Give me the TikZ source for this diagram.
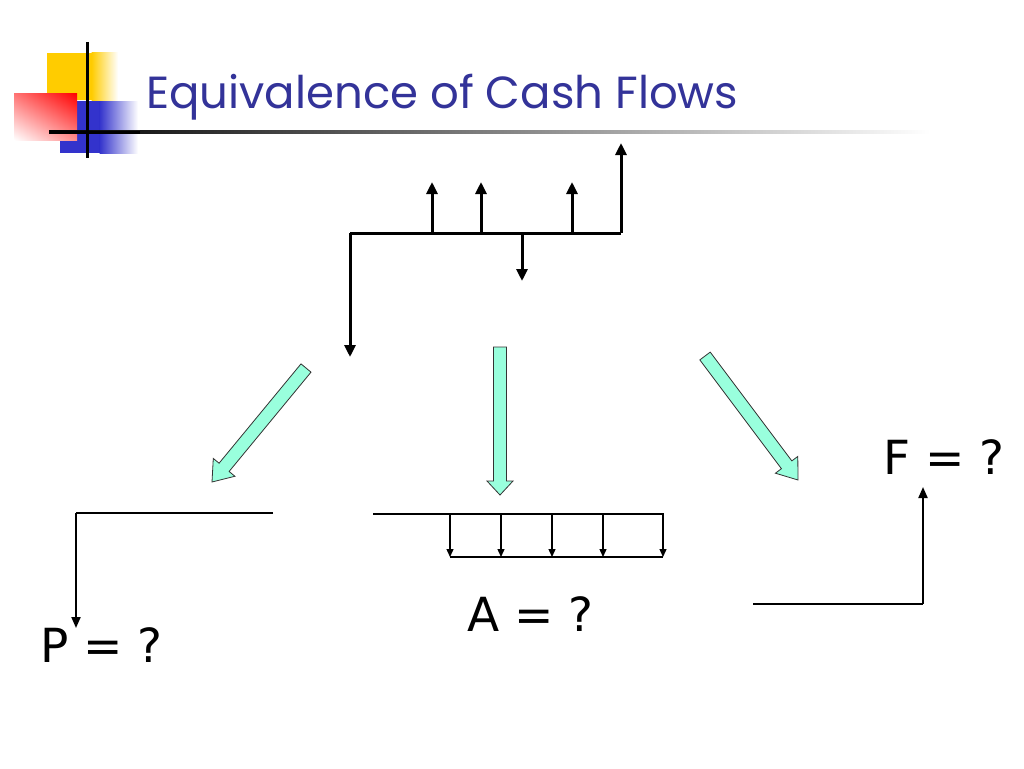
\documentclass[tikz,border=0pt]{standalone}
\usepackage{fontspec}
\setmainfont{DejaVu Sans}
\newfontfamily\titlefont{Poppins}
\usetikzlibrary{arrows.meta,calc,fadings,shadings}
\definecolor{titleblue}{RGB}{51,51,153}
\definecolor{aqua}{RGB}{153,255,221}
\definecolor{logoyellow}{RGB}{255,204,0}
\definecolor{logoblue}{RGB}{51,51,204}
\tikzset{
  cf/.style={line width=3pt,-{Triangle[length=12pt,width=11pt]}},
  cfline/.style={line width=3pt},
  thinline/.style={line width=2pt},
  thinarrow/.style={line width=2pt,-{Triangle[length=11pt,width=9pt]}},
  smallarrow/.style={line width=1.3pt,-{Triangle[length=8pt,width=7pt]}},
  lbl/.style={font=\fontsize{47}{50}\selectfont,anchor=base west,inner sep=0pt},
  fat/.style={fill=aqua,draw=black!80,line width=0.8pt,line join=miter}
}
\newcommand{\fatarrow}[6]{%
  % #1 tail, #2 tip, #3 shaft half width, #4 head half width, #5 head length, #6 name
  \coordinate (#6t) at #1;
  \coordinate (#6h) at #2;
  \coordinate (#6b) at ($(#6h)!#5!(#6t)$);
  \draw[fat] ($(#6t)!#3!90:(#6h)$) -- ($(#6b)!#3!90:(#6h)$) -- ($(#6b)!#4!90:(#6h)$)
    -- (#6h) -- ($(#6b)!#4!-90:(#6h)$) -- ($(#6b)!#3!-90:(#6h)$) -- ($(#6t)!#3!-90:(#6h)$) -- cycle;
}
\begin{document}
\begin{tikzpicture}[x=1pt,y=-1pt]
\useasboundingbox (0,0) rectangle (1024,768);
\fill[white] (0,0) rectangle (1024,768);
% logo
\fill[logoyellow] (47,53) rectangle (92,100);
\shade[left color=logoyellow,right color=white] (91.5,53) rectangle (118,100);
\fill[logoblue] (60,101) rectangle (100,153);
\shade[left color=logoblue,right color=white] (99.5,101) rectangle (138,153);
\shade[upper right=red,upper left=red!55!white,lower right=red!45!white,lower left=white] (14,93) rectangle (77,140);
\shade[left color=black,right color=white] (49,130.5) rectangle (930,133.5);
\fill[black] (49,130.5) rectangle (140,133.5);
\draw[line width=3pt] (87,42) -- (87,158);
% title
\node[font=\titlefont\fontsize{45}{50}\selectfont,text=titleblue,anchor=base west,inner sep=0pt] (title) at (146,108) {Equivalence of Cash Flows};
% top cash flow
\coordinate (t0) at (350,233);
\coordinate (t5) at (621,233);
\coordinate (u1) at (432,233);
\coordinate (u2) at (481,233);
\coordinate (d3) at (522,233);
\coordinate (u4) at (572,233);
\coordinate (e0) at (350,357);
\coordinate (e1) at (432,182);
\coordinate (e2) at (481,182);
\coordinate (e3) at (522,281);
\coordinate (e4) at (572,182);
\coordinate (e5) at (621,143);
\draw[cfline] (t0) -- (t5);
\draw[cf] (t0) -- (e0);
\draw[cf] (u1) -- (e1);
\draw[cf] (u2) -- (e2);
\draw[cf] (d3) -- (e3);
\draw[cf] (u4) -- (e4);
\draw[cf] (t5) -- (e5);
% fat arrows
\fatarrow{(306,368)}{(212,482)}{6.5pt}{14pt}{19pt}{la}
\fatarrow{(500,347)}{(500,495)}{6.5pt}{13pt}{14pt}{ma}
\fatarrow{(705,356)}{(798,480)}{6.5pt}{14pt}{19pt}{ra}
% P diagram
\coordinate (p0) at (76,513);
\coordinate (p1) at (273,513);
\node[lbl] (P) at (40,662) {P = ?};
\draw[thinline] (p1) -- (p0);
\draw[thinarrow] (p0) -- (76,628);
% A diagram
\coordinate (a0) at (373,514);
\coordinate (a5) at (664,514);
\draw[thinline] (a0) -- (a5);
\foreach \x [count=\i] in {450,501,552,603,663}{
  \coordinate (as\i) at (\x,514);
  \coordinate (ae\i) at (\x,557);
  \draw[smallarrow] (as\i) -- (ae\i);
}
\draw[line width=1.3pt] (ae1) -- (ae5);
\node[lbl] (A) at (467,631) {A = ?};
% F diagram
\coordinate (f0) at (753,604);
\coordinate (f1) at (923,604);
\node[lbl] (F) at (883,474) {F = ?};
\draw[thinline] (f0) -- (f1);
\draw[thinarrow] (f1) -- (923,487);
\end{tikzpicture}
\end{document}
